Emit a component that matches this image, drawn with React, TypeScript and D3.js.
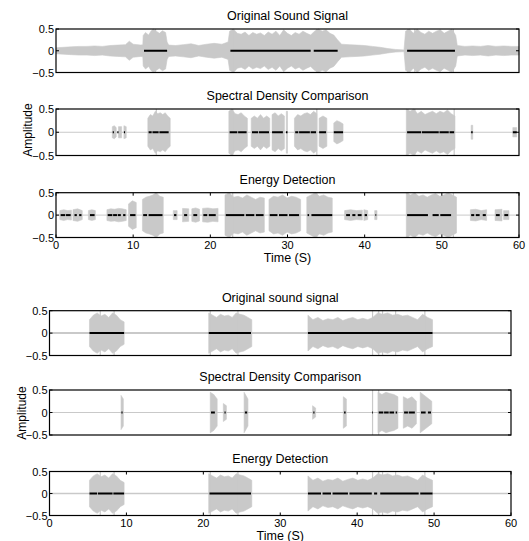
import React from "react";
import * as d3 from "d3";

// ---------- DATA ----------
type Seg = { start: number; end: number; amps: number[] };

const xTicks = [0, 10, 20, 30, 40, 50, 60];
const yTicks = [0.5, 0, -0.5];
const yTickLabels = ["0.5", "0", "\u22120.5"];
const titles = [
  "Original Sound Signal",
  "Spectral Density Comparison",
  "Energy Detection",
  "Original sound signal",
  "Spectral Density Comparison",
  "Energy Detection",
];

// Panel 1: continuous envelope (time, half amplitude)
const orig1Envelope: [number, number][] = [
  [0, 0.07], [1, 0.08], [2, 0.09], [3, 0.1], [4, 0.1], [5, 0.11], [6, 0.1], [7, 0.12], [8, 0.13],
  [9, 0.14], [9.5, 0.22], [10, 0.15], [11, 0.13], [11.25, 0.14], [11.3, 0.35], [11.6, 0.42], [12, 0.36],
  [12.3, 0.45], [12.6, 0.5], [13, 0.45], [13.4, 0.4], [13.8, 0.46], [14.2, 0.42], [14.4, 0.2],
  [14.6, 0.13], [15.5, 0.12], [16.5, 0.14], [17.5, 0.16], [18.5, 0.12], [19.5, 0.15], [20.5, 0.17],
  [21.5, 0.15], [22.3, 0.2], [22.5, 0.45], [23, 0.5], [23.5, 0.4], [24, 0.38], [24.5, 0.43], [25, 0.35],
  [25.5, 0.42], [26, 0.38], [26.5, 0.41], [27, 0.35], [27.5, 0.43], [28, 0.38], [28.5, 0.45], [29, 0.35],
  [29.5, 0.48], [30, 0.4], [30.5, 0.35], [31, 0.42], [31.5, 0.38], [32, 0.45], [32.5, 0.4], [33, 0.36],
  [33.5, 0.45], [34, 0.5], [34.5, 0.45], [35, 0.48], [35.5, 0.4], [36, 0.36], [36.5, 0.25], [37, 0.15],
  [38, 0.14], [39, 0.13], [40, 0.12], [41, 0.1], [42, 0.08], [43, 0.05], [44, 0.03], [45.1, 0.02],
  [45.3, 0.45], [45.8, 0.5], [46.3, 0.4], [46.8, 0.5], [47.3, 0.42], [47.8, 0.38], [48.3, 0.45],
  [48.8, 0.4], [49.3, 0.45], [49.8, 0.48], [50.3, 0.4], [50.8, 0.45], [51.3, 0.5], [51.8, 0.35],
  [52, 0.12], [53, 0.1], [54, 0.11], [55, 0.1], [56, 0.12], [57, 0.1], [58, 0.11], [59, 0.1], [60, 0.1],
];
const orig1Spikes: [number, number][] = [[12.9, 0.5], [22.9, 0.5], [33.8, 0.5], [45.6, 0.5], [46.5, 0.5], [51.5, 0.5]];
const orig1Detected: [number, number][] = [[11.4, 14.4], [22.6, 33.0], [33.4, 36.5], [45.5, 51.7]];

// Panel 2: spectral density comparison (top)
const spec1Segments: Seg[] = [
  { start: 7.3, end: 7.8, amps: [0.12, 0.14, 0.1] },
  { start: 8.1, end: 8.5, amps: [0.12, 0.12] },
  { start: 8.8, end: 9.1, amps: [0.14, 0.12] },
  { start: 11.9, end: 14.8, amps: [0.3, 0.38, 0.35, 0.45, 0.4, 0.42, 0.38, 0.42, 0.35, 0.3] },
  { start: 22.4, end: 24.8, amps: [0.45, 0.5, 0.4, 0.38, 0.42, 0.35, 0.3] },
  { start: 25.3, end: 27.7, amps: [0.3, 0.35, 0.3, 0.38, 0.3, 0.35, 0.3] },
  { start: 28.0, end: 29.6, amps: [0.38, 0.42, 0.35, 0.4, 0.35] },
  { start: 29.85, end: 30.0, amps: [0.45, 0.45] },
  { start: 30.9, end: 33.8, amps: [0.3, 0.38, 0.35, 0.4, 0.42, 0.38, 0.45, 0.4] },
  { start: 34.1, end: 35.1, amps: [0.3, 0.35, 0.3] },
  { start: 36.0, end: 37.2, amps: [0.2, 0.25, 0.22, 0.18] },
  { start: 45.4, end: 51.7, amps: [0.5, 0.45, 0.5, 0.4, 0.45, 0.38, 0.42, 0.45, 0.4, 0.45, 0.42, 0.48, 0.4, 0.35] },
  { start: 53.8, end: 54.0, amps: [0.15, 0.15] },
  { start: 59.2, end: 59.7, amps: [0.1, 0.1] },
];
const spec1Spikes: [number, number][] = [[13.0, 0.5], [22.9, 0.5], [33.8, 0.5], [45.6, 0.5], [46.5, 0.5], [51.6, 0.5]];
const spec1Detected: [number, number][] = [
  [7.35, 7.5], [7.95, 8.1], [8.8, 8.95], [12.0, 12.4], [12.5, 13.3], [13.4, 14.6], [22.5, 23.5], [23.6, 24.7],
  [25.4, 26.2], [26.3, 27.6], [28.0, 29.4], [29.8, 30.0], [31.0, 31.4], [31.5, 32.9], [33.0, 33.7], [34.1, 35.0],
  [36.0, 37.2], [45.5, 47.3], [47.4, 49.6], [49.7, 50.9], [51.0, 51.6], [53.8, 54.0], [59.2, 59.7],
];

// Panel 3: energy detection (top)
const energy1Segments: Seg[] = [
  { start: 0.5, end: 2.0, amps: [0.1, 0.12, 0.1, 0.11] },
  { start: 2.2, end: 3.4, amps: [0.12, 0.14, 0.1] },
  { start: 4.2, end: 5.1, amps: [0.1, 0.12, 0.1] },
  { start: 6.6, end: 9.1, amps: [0.12, 0.14, 0.13, 0.15, 0.14, 0.12] },
  { start: 9.4, end: 10.4, amps: [0.25, 0.32, 0.28] },
  { start: 11.2, end: 13.9, amps: [0.35, 0.4, 0.42, 0.45, 0.5, 0.42, 0.4] },
  { start: 15.2, end: 15.7, amps: [0.1, 0.1] },
  { start: 16.4, end: 17.2, amps: [0.15, 0.14] },
  { start: 17.6, end: 18.6, amps: [0.14, 0.16, 0.13] },
  { start: 19.0, end: 21.0, amps: [0.15, 0.16, 0.14, 0.15] },
  { start: 21.9, end: 27.0, amps: [0.45, 0.5, 0.4, 0.42, 0.38, 0.45, 0.4, 0.35, 0.4, 0.38] },
  { start: 27.6, end: 31.7, amps: [0.35, 0.42, 0.4, 0.45, 0.38, 0.42, 0.4, 0.35] },
  { start: 32.5, end: 35.8, amps: [0.4, 0.45, 0.5, 0.42, 0.45, 0.4, 0.38] },
  { start: 37.4, end: 39.7, amps: [0.1, 0.12, 0.1, 0.11] },
  { start: 39.9, end: 40.4, amps: [0.12, 0.1] },
  { start: 41.3, end: 41.6, amps: [0.1] },
  { start: 45.4, end: 51.9, amps: [0.5, 0.45, 0.5, 0.42, 0.45, 0.4, 0.45, 0.48, 0.42, 0.45, 0.5, 0.45, 0.4] },
  { start: 53.7, end: 55.8, amps: [0.12, 0.13, 0.1, 0.12] },
  { start: 56.9, end: 57.8, amps: [0.12, 0.13] },
  { start: 58.0, end: 58.7, amps: [0.1, 0.1] },
];
const energy1Spikes: [number, number][] = [[12.9, 0.5], [22.9, 0.5], [33.8, 0.5], [45.6, 0.5], [46.5, 0.5], [51.5, 0.5]];
const energy1Detected: [number, number][] = [
  [0.6, 1.2], [1.3, 1.9], [2.4, 2.7], [3.0, 3.3], [4.4, 5.0], [6.7, 7.3], [7.4, 7.9], [8.0, 8.4], [8.7, 9.0],
  [9.6, 10.3], [11.3, 11.8], [12.0, 13.8], [15.3, 15.6], [16.6, 17.0], [17.8, 18.3], [19.1, 19.6], [19.8, 20.7],
  [22.0, 24.4], [24.6, 25.7], [25.9, 26.9], [27.7, 28.7], [28.9, 30.0], [30.2, 31.5], [32.6, 32.8], [33.1, 35.8],
  [37.6, 38.1], [38.4, 38.8], [39.1, 39.6], [40.0, 40.3], [41.4, 41.5], [45.5, 48.2], [48.8, 49.6], [49.8, 51.2],
  [53.8, 54.2], [54.4, 54.9], [55.3, 55.7], [57.0, 57.5], [58.1, 58.6],
];

// Panel 4: original (bottom)
const orig2Segments: Seg[] = [
  { start: 5.2, end: 9.7, amps: [0.3, 0.4, 0.45, 0.38, 0.42, 0.35, 0.45, 0.4, 0.3, 0.25] },
  { start: 20.7, end: 26.3, amps: [0.45, 0.4, 0.35, 0.42, 0.38, 0.4, 0.35, 0.45, 0.42, 0.4, 0.35, 0.3] },
  {
    start: 33.6, end: 49.8,
    amps: [0.4, 0.3, 0.35, 0.28, 0.32, 0.3, 0.35, 0.28, 0.32, 0.35, 0.3, 0.33, 0.3, 0.35, 0.45, 0.42, 0.45, 0.4, 0.42, 0.38, 0.4, 0.35, 0.3, 0.42, 0.35, 0.3],
  },
];
const orig2Spikes: [number, number][] = [[6.6, 0.5], [8.4, 0.5], [20.9, 0.5], [24.5, 0.5], [42.0, 0.5], [42.8, 0.5], [43.3, 0.5], [45.0, 0.5], [48.8, 0.5]];
const orig2Detected: [number, number][] = [[5.2, 9.7], [20.7, 26.2], [33.6, 49.8]];

// Panel 5: spectral density (bottom)
const spec2Segments: Seg[] = [
  { start: 9.3, end: 9.6, amps: [0.38, 0.3] },
  { start: 20.9, end: 21.8, amps: [0.45, 0.4, 0.3] },
  { start: 22.6, end: 23.0, amps: [0.2, 0.15] },
  { start: 25.3, end: 25.8, amps: [0.45, 0.3] },
  { start: 34.2, end: 34.6, amps: [0.15, 0.1] },
  { start: 38.2, end: 38.6, amps: [0.35, 0.3] },
  { start: 42.7, end: 45.3, amps: [0.45, 0.4, 0.45, 0.42, 0.4, 0.35] },
  { start: 46.0, end: 47.7, amps: [0.35, 0.3, 0.35, 0.25] },
  { start: 48.2, end: 49.7, amps: [0.45, 0.35, 0.25] },
];
const spec2Spikes: [number, number][] = [[42.0, 0.5], [42.8, 0.5]];
const spec2Detected: [number, number][] = [
  [9.35, 9.5], [21.0, 21.5], [22.75, 22.9], [25.4, 25.7], [34.3, 34.45], [38.3, 38.5], [41.95, 42.05],
  [42.8, 43.4], [43.5, 44.1], [44.2, 44.8], [45.0, 45.2], [46.1, 46.6], [46.7, 47.5], [48.3, 48.9], [49.2, 49.6],
];

// Panel 6: energy detection (bottom)
const energy2Segments: Seg[] = orig2Segments;
const energy2Spikes: [number, number][] = orig2Spikes;
const energy2Detected: [number, number][] = [
  [5.2, 6.2], [6.3, 8.2], [8.3, 9.7], [20.8, 26.2], [33.6, 35.3], [35.5, 36.6], [36.8, 38.8], [39.0, 41.9],
  [42.2, 42.6], [43.0, 48.0], [48.2, 49.8],
];

// ---------- LAYOUT ----------
const W = 529;
const H = 541;
const FONT = "'Liberation Sans', Arial, Helvetica, sans-serif";
const GRAY = "#c9c9c9";

type PanelSpec = {
  x0: number; x1: number; top: number; bottom: number;
  envelope?: [number, number][]; segments?: Seg[];
  spikes: [number, number][]; detected: [number, number][];
  xTickLabels: boolean; zeroWidth: number;
};

const panels: PanelSpec[] = [
  { x0: 56, x1: 519, top: 29, bottom: 72.5, envelope: orig1Envelope, spikes: orig1Spikes, detected: orig1Detected, xTickLabels: false, zeroWidth: 1 },
  { x0: 56, x1: 519, top: 109, bottom: 155.5, segments: spec1Segments, spikes: spec1Spikes, detected: spec1Detected, xTickLabels: false, zeroWidth: 1 },
  { x0: 56, x1: 519, top: 192.7, bottom: 237.5, segments: energy1Segments, spikes: energy1Spikes, detected: energy1Detected, xTickLabels: true, zeroWidth: 1 },
  { x0: 49.5, x1: 511, top: 310.7, bottom: 355.5, segments: orig2Segments, spikes: orig2Spikes, detected: orig2Detected, xTickLabels: false, zeroWidth: 2 },
  { x0: 49.5, x1: 511, top: 390, bottom: 435, segments: spec2Segments, spikes: spec2Spikes, detected: spec2Detected, xTickLabels: false, zeroWidth: 1 },
  { x0: 49.5, x1: 511, top: 471.5, bottom: 515.5, segments: energy2Segments, spikes: energy2Spikes, detected: energy2Detected, xTickLabels: true, zeroWidth: 1.5 },
];

function segPoints(s: Seg): [number, number][] {
  const n = s.amps.length;
  if (n === 1) return [[s.start, s.amps[0]], [s.end, s.amps[0]]];
  return s.amps.map((a, i) => [s.start + ((s.end - s.start) * i) / (n - 1), a] as [number, number]);
}

function Panel({ p, idx }: { p: PanelSpec; idx: number }) {
  const x = d3.scaleLinear().domain([0, 60]).range([p.x0, p.x1]);
  const y = d3.scaleLinear().domain([-0.5, 0.5]).range([p.bottom, p.top]);
  const area = d3
    .area<[number, number]>()
    .x((d) => x(d[0]))
    .y0((d) => y(-d[1]))
    .y1((d) => y(d[1]));
  const groups: [number, number][][] = p.envelope ? [p.envelope] : (p.segments || []).map(segPoints);
  const cx = (p.x0 + p.x1) / 2;
  return (
    <g>
      <text x={cx} y={p.top - 9} textAnchor="middle" fontSize={12.5} fontFamily={FONT} fill="#000">
        {titles[idx]}
      </text>
      <line x1={p.x0} x2={p.x1} y1={y(0)} y2={y(0)} stroke={GRAY} strokeWidth={p.zeroWidth} />
      {groups.map((g, i) => (
        <path key={i} d={area(g) || ""} fill={GRAY} stroke={GRAY} strokeWidth={0.6} />
      ))}
      {p.spikes.map(([t, a], i) => (
        <line key={"s" + i} x1={x(t)} x2={x(t)} y1={y(-a)} y2={y(a)} stroke={GRAY} strokeWidth={1.2} />
      ))}
      {p.detected.map(([a, b], i) => (
        <line key={"d" + i} x1={x(a)} x2={x(b)} y1={y(0)} y2={y(0)} stroke="#000" strokeWidth={2} />
      ))}
      {yTicks.map((v, i) => (
        <g key={"y" + i}>
          <line x1={p.x0} x2={p.x0 + 3} y1={y(v)} y2={y(v)} stroke="#000" strokeWidth={1} />
          <line x1={p.x1} x2={p.x1 - 3} y1={y(v)} y2={y(v)} stroke="#000" strokeWidth={1} />
          <text x={p.x0 - 2} y={y(v) + 4} textAnchor="end" fontSize={11} fontFamily={FONT} fill="#000">
            {yTickLabels[i]}
          </text>
        </g>
      ))}
      {p.xTickLabels &&
        xTicks.map((v) => (
          <g key={"x" + v}>
            <line x1={x(v)} x2={x(v)} y1={p.bottom} y2={p.bottom - 3} stroke="#000" strokeWidth={1} />
            <line x1={x(v)} x2={x(v)} y1={p.top} y2={p.top + 3} stroke="#000" strokeWidth={1} />
            <text x={x(v)} y={p.bottom + 11} textAnchor="middle" fontSize={11} fontFamily={FONT} fill="#000">
              {v}
            </text>
          </g>
        ))}
      {p.xTickLabels && (
        <text x={cx} y={p.bottom + 24} textAnchor="middle" fontSize={12.5} fontFamily={FONT} fill="#000">
          Time (S)
        </text>
      )}
      <rect x={p.x0} y={p.top} width={p.x1 - p.x0} height={p.bottom - p.top} fill="none" stroke="#000" strokeWidth={1.2} />
    </g>
  );
}

export default function App() {
  return (
    <svg width={W} height={H} style={{ position: "absolute", left: 0, top: 0, background: "#fff" }}>
      <rect x={0} y={0} width={W} height={H} fill="#fff" />
      {panels.map((p, i) => (
        <Panel key={i} p={p} idx={i} />
      ))}
      <text transform={`translate(32,130) rotate(-90)`} textAnchor="middle" fontSize={12} fontFamily={FONT} fill="#000">
        Amplitude
      </text>
      <text transform={`translate(26,413) rotate(-90)`} textAnchor="middle" fontSize={12} fontFamily={FONT} fill="#000">
        Amplitude
      </text>
    </svg>
  );
}
